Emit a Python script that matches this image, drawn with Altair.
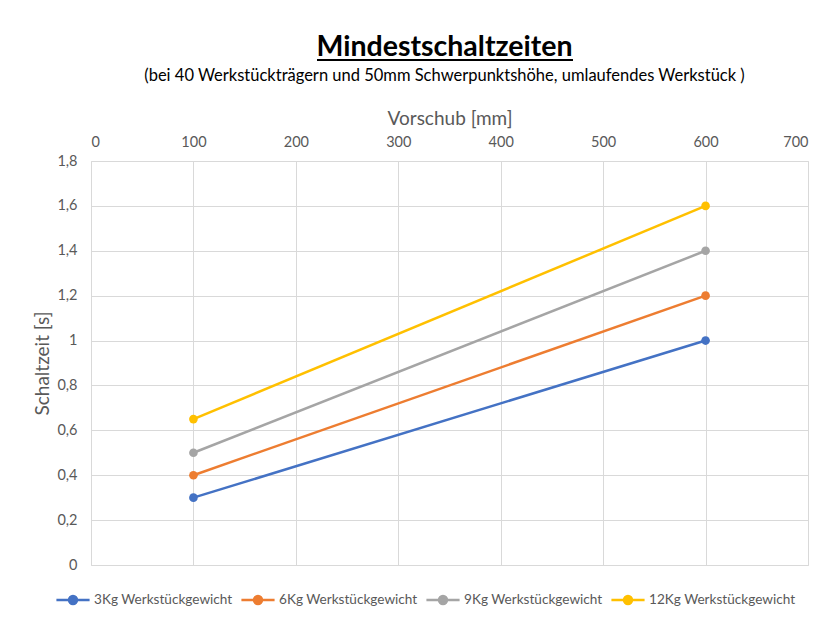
import altair as alt
import pandas as pd

series = ["3Kg Werkstückgewicht", "6Kg Werkstückgewicht", "9Kg Werkstückgewicht", "12Kg Werkstückgewicht"]
colors = ["#4472C4", "#ED7D31", "#A5A5A5", "#FFC000"]
vorschub = [100, 600]
werte = {
    "3Kg Werkstückgewicht": [0.3, 1.0],
    "6Kg Werkstückgewicht": [0.4, 1.2],
    "9Kg Werkstückgewicht": [0.5, 1.4],
    "12Kg Werkstückgewicht": [0.65, 1.6],
}

rows = []
for s in series:
    for xv, yv in zip(vorschub, werte[s]):
        rows.append({"Serie": s, "Vorschub": xv, "Schaltzeit": yv})
df = pd.DataFrame(rows)

FONT = "Lato"
GRAY = "#595959"
GRID = "#D9D9D9"

color = alt.Color(
    "Serie:N",
    scale=alt.Scale(domain=series, range=colors),
    sort=series,
    legend=alt.Legend(
        title=None,
        orient="none",
        legendX=-36,
        legendY=421,
        direction="horizontal",
        symbolType="M -1 0 L 1 0 M 0.24 0 A 0.24 0.24 0 1 1 -0.24 0 A 0.24 0.24 0 1 1 0.24 0 Z",
        symbolSize=1100,
        symbolStrokeWidth=2.5,
        labelFontSize=13.6,
        labelColor=GRAY,
        labelFont=FONT,
        columnPadding=3,
        labelOffset=3,
    ),
)

x = alt.X(
    "Vorschub:Q",
    scale=alt.Scale(domain=[0, 700], nice=False),
    axis=alt.Axis(
        orient="top",
        values=[0, 100, 200, 300, 400, 500, 600, 700],
        title="Vorschub [mm]",
        titleFontSize=19,
        titleFontWeight="normal",
        titleColor=GRAY,
        titleFont=FONT,
        titlePadding=6,
        labelFontSize=14.5,
        labelColor=GRAY,
        labelFont=FONT,
        labelPadding=12,
        ticks=False,
        domain=False,
        gridColor=GRID,
    ),
)
y = alt.Y(
    "Schaltzeit:Q",
    scale=alt.Scale(domain=[0, 1.8], nice=False),
    axis=alt.Axis(
        values=[0, 0.2, 0.4, 0.6, 0.8, 1.0, 1.2, 1.4, 1.6, 1.8],
        labelExpr="replace(format(datum.value, '~g'), '.', ',')",
        title="Schaltzeit [s]",
        titleFontSize=19,
        titleFontWeight="normal",
        titleColor=GRAY,
        titleFont=FONT,
        titlePadding=4,
        labelFontSize=14.5,
        labelColor=GRAY,
        labelFont=FONT,
        labelPadding=14,
        ticks=False,
        domain=False,
        gridColor=GRID,
    ),
)

lines = alt.Chart(df).mark_line(strokeWidth=2.5).encode(x=x, y=y, color=color, detail="Serie:N")
points = alt.Chart(df).mark_point(filled=True, size=75, opacity=1).encode(x=x, y=y, color=color)

underline = alt.Chart(pd.DataFrame({"a": [0]})).mark_rule(color="black", strokeWidth=2).encode(
    x=alt.value(226), x2=alt.value(482), y=alt.value(-101)
)

chart = (
    alt.layer(lines, points, underline)
    .properties(
        width=717,
        height=404,
        title=alt.TitleParams(
            text="Mindestschaltzeiten",
            subtitle="(bei 40 Werkstückträgern und 50mm Schwerpunktshöhe, umlaufendes Werkstück )",
            anchor="middle",
            dx=-5,
            fontSize=28.5,
            fontWeight="bold",
            font=FONT,
            color="black",
            subtitleFont=FONT,
            subtitleFontSize=16.5,
            subtitleColor="black",
            subtitlePadding=6,
            offset=-25,
        ),
        autosize=alt.AutoSizeParams(type="none"),
        padding={"left": 83, "top": 153, "right": 12, "bottom": 50},
    )
    .configure_view(stroke=GRID)
    .configure(background="white")
)

chart.save("out.html", embed_options={"renderer": "svg", "actions": False})
